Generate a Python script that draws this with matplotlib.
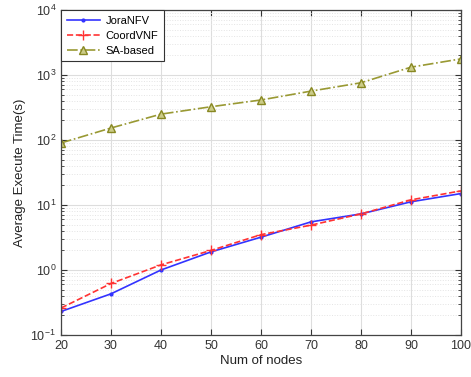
import matplotlib
matplotlib.use("Agg")
import matplotlib.pyplot as plt
from matplotlib.ticker import LogLocator, NullFormatter

nodes = [20, 30, 40, 50, 60, 70, 80, 90, 100]
jora = [0.23, 0.43, 1.0, 1.9, 3.2, 5.5, 7.3, 11.2, 15.0]
coord = [0.26, 0.62, 1.2, 2.0, 3.5, 4.9, 7.3, 12.0, 16.5]
sa = [90, 153, 250, 325, 413, 565, 760, 1320, 1770]
labels = ["JoraNFV", "CoordVNF", "SA-based"]

plt.rcParams['font.family'] = ['Liberation Sans', 'DejaVu Sans']

fig = plt.figure(figsize=(4.71, 3.77), dpi=100)
ax = fig.add_axes([61/471, 42/377, 400/471, 325/377])

ax.plot(nodes, jora, color='#3333ff', linestyle='-', marker='.', markersize=4, linewidth=1.2, label=labels[0])
ax.plot(nodes, coord, color='#ff3333', linestyle='--', marker='+', markersize=7, linewidth=1.2, label=labels[1])
ax.plot(nodes, sa, color='#999933', linestyle='-.', marker='^', markersize=6, markerfacecolor='#cccc88',
        markeredgecolor='#888822', linewidth=1.2, label=labels[2])

ax.set_yscale('log')
ax.set_xlim(20, 100)
ax.set_ylim(0.1, 10000)
ax.set_xticks(nodes)
ax.yaxis.set_major_locator(LogLocator(base=10, numticks=10))
ax.yaxis.set_minor_locator(LogLocator(base=10, subs=range(2, 10), numticks=20))
ax.yaxis.set_minor_formatter(NullFormatter())

ax.grid(True, which='major', color='#dddddd', linestyle='-', linewidth=0.8)
ax.grid(True, which='minor', color='#e4e4e4', linestyle=':', linewidth=0.7)
ax.set_axisbelow(True)

ax.tick_params(which='both', direction='in', top=True, right=True, labelsize=9, colors='#333333')
ax.tick_params(which='major', length=4)
ax.tick_params(which='minor', length=2)
for s in ax.spines.values():
    s.set_color('#444444')
    s.set_linewidth(0.9)

ax.set_xlabel('Num of nodes', fontsize=9.5, color='#222222', labelpad=2)
ax.set_ylabel('Average Execute Time(s)', fontsize=9.5, color='#222222', labelpad=3)

leg = ax.legend(loc='upper left', fontsize=8, fancybox=False, framealpha=1, edgecolor='#333333',
                borderaxespad=0.0, handlelength=3.0, labelspacing=0.45, borderpad=0.5,
                handletextpad=0.5)
leg.get_frame().set_linewidth(0.8)

fig.savefig('out.png', dpi=100)
